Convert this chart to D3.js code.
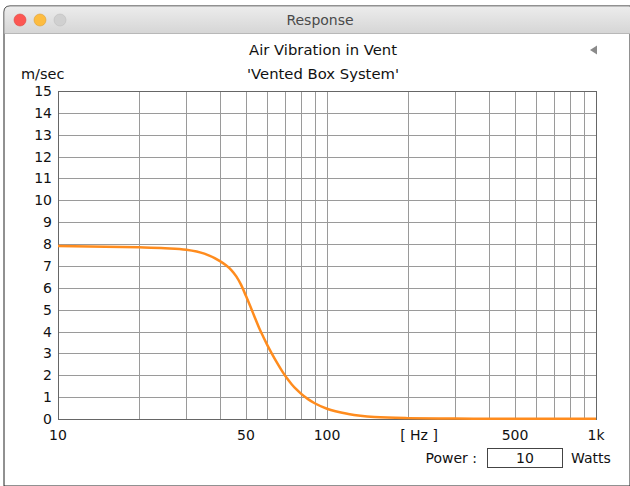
<!DOCTYPE html>
<html>
<head>
<meta charset="utf-8">
<script src="https://cdn.jsdelivr.net/npm/d3@7/dist/d3.min.js"></script>
<style>
  html, body { margin: 0; padding: 0; background: #fff; }
  svg { display: block; }
  text { font-family: "DejaVu Sans", "Liberation Sans", sans-serif; fill: #111; }
</style>
</head>
<body>
<svg id="chart" width="630" height="486"></svg>
<script>
// Vent air velocity vs. frequency
const freqs  = [10, 15, 20, 25, 30, 35, 40, 42, 44, 46, 48, 50, 52, 54, 56, 58, 60, 62, 65, 68, 71, 74, 77, 80, 85, 90, 100, 120, 150, 200, 300, 500, 1000];
const speeds = [7.91, 7.88, 7.85, 7.81, 7.74, 7.56, 7.22, 7.04, 6.82, 6.52, 6.12, 5.62, 5.12, 4.62, 4.15, 3.75, 3.38, 3.05, 2.6, 2.2, 1.86, 1.58, 1.35, 1.16, 0.91, 0.72, 0.47, 0.23, 0.09, 0.04, 0.02, 0.01, 0.01];

const yTicks = d3.range(0, 16);
const xGrid = [20, 30, 40, 50, 60, 70, 80, 90, 100, 200, 300, 400, 500, 600, 700, 800, 900];
const xLabels = [
  { f: 10, label: "10" },
  { f: 50, label: "50" },
  { f: 100, label: "100" },
  { f: 500, label: "500" },
  { f: 1000, label: "1k" }
];
const windowTitle = "Response";
const chartTitle = "Air Vibration in Vent";
const chartSubtitle = "'Vented Box System'";
const yUnit = "m/sec";
const xUnit = "[ Hz ]";
const powerValue = "10";

const svg = d3.select("#chart");

// ---- window frame ----
const defs = svg.append("defs");
const grad = defs.append("linearGradient").attr("id", "titlebar").attr("x1", 0).attr("y1", 0).attr("x2", 0).attr("y2", 1);
grad.append("stop").attr("offset", "0%").attr("stop-color", "#ececec");
grad.append("stop").attr("offset", "100%").attr("stop-color", "#d6d6d6");

svg.append("path")
  .attr("d", "M4,486 L4,12 Q4,6 10,6 L630,6 L630,486 Z")
  .attr("fill", "#fff").attr("stroke", "#222").attr("stroke-width", 1);
svg.append("path")
  .attr("d", "M4.5,33 L4.5,12 Q4.5,6.5 10,6.5 L630,6.5 L630,33 Z")
  .attr("fill", "url(#titlebar)");
svg.append("line").attr("x1", 4.5).attr("x2", 630).attr("y1", 33.5).attr("y2", 33.5)
  .attr("stroke", "#b8b8b8");

const lights = [{ x: 20, c: "#fc5753", s: "#de4640" }, { x: 40, c: "#fdbc40", s: "#de9f34" }, { x: 60, c: "#d0d0d0", s: "#bdbdbd" }];
svg.selectAll("circle.light").data(lights).enter().append("circle")
  .attr("class", "light")
  .attr("cx", d => d.x).attr("cy", 20).attr("r", 6)
  .attr("fill", d => d.c).attr("stroke", d => d.s).attr("stroke-width", 0.6);

svg.append("text").attr("x", 320).attr("y", 25).attr("text-anchor", "middle")
  .style("font-size", "14px").style("fill", "#4a4a4a").text(windowTitle);

// ---- plot area ----
const plotLeft = 58, plotRight = 596, plotTop = 91, plotBottom = 419;

const x = d3.scaleLog().domain([10, 1000]).range([plotLeft, plotRight]);
const y = d3.scaleLinear().domain([0, 15]).range([plotBottom, plotTop]);

const grid = svg.append("g").attr("stroke", "#9a9a9a").attr("stroke-width", 1);
grid.selectAll("line.v").data(xGrid).enter().append("line")
  .attr("x1", d => Math.round(x(d)) + 0.5).attr("x2", d => Math.round(x(d)) + 0.5)
  .attr("y1", plotTop).attr("y2", plotBottom);
grid.selectAll("line.h").data(yTicks.slice(1, -1)).enter().append("line")
  .attr("x1", plotLeft).attr("x2", plotRight)
  .attr("y1", d => Math.round(y(d)) + 0.5).attr("y2", d => Math.round(y(d)) + 0.5);

svg.append("rect")
  .attr("x", plotLeft + 0.5).attr("y", plotTop + 0.5)
  .attr("width", plotRight - plotLeft).attr("height", plotBottom - plotTop)
  .attr("fill", "none").attr("stroke", "#666").attr("stroke-width", 1);

// y-axis labels
svg.append("g").selectAll("text").data(yTicks).enter().append("text")
  .attr("x", 52).attr("y", d => y(d) + 5)
  .attr("text-anchor", "end").style("font-size", "14px")
  .text(d => d);

// x-axis labels
svg.append("g").selectAll("text").data(xLabels).enter().append("text")
  .attr("x", d => x(d.f)).attr("y", 440)
  .attr("text-anchor", "middle").style("font-size", "14px")
  .text(d => d.label);
svg.append("text").attr("x", 419).attr("y", 440).attr("text-anchor", "middle")
  .style("font-size", "14px").text(xUnit);

// titles
svg.append("text").attr("x", 323).attr("y", 55).attr("text-anchor", "middle")
  .style("font-size", "14.8px").text(chartTitle);
svg.append("text").attr("x", 323).attr("y", 79).attr("text-anchor", "middle")
  .style("font-size", "14.8px").text(chartSubtitle);
svg.append("text").attr("x", 21).attr("y", 79).style("font-size", "14.5px").text(yUnit);

// collapse arrow
svg.append("path").attr("d", "M590,50 L597,45.5 L597,54.5 Z").attr("fill", "#8a8a8a");

// response curve
const line = d3.line()
  .x((d, i) => x(freqs[i]))
  .y(d => y(d))
  .curve(d3.curveMonotoneX);
svg.append("path")
  .datum(speeds)
  .attr("d", line)
  .attr("fill", "none")
  .attr("stroke", "#ff8c1e")
  .attr("stroke-width", 2.5)
  .attr("stroke-linejoin", "round");

// power field
svg.append("text").attr("x", 477).attr("y", 463).attr("text-anchor", "end")
  .style("font-size", "14px").text("Power :");
svg.append("rect").attr("x", 487.5).attr("y", 448.5).attr("width", 75).attr("height", 19)
  .attr("fill", "#fff").attr("stroke", "#444").attr("stroke-width", 1);
svg.append("text").attr("x", 525).attr("y", 463).attr("text-anchor", "middle")
  .style("font-size", "14px").text(powerValue);
svg.append("text").attr("x", 571).attr("y", 463)
  .style("font-size", "14px").text("Watts");
</script>
</body>
</html>
